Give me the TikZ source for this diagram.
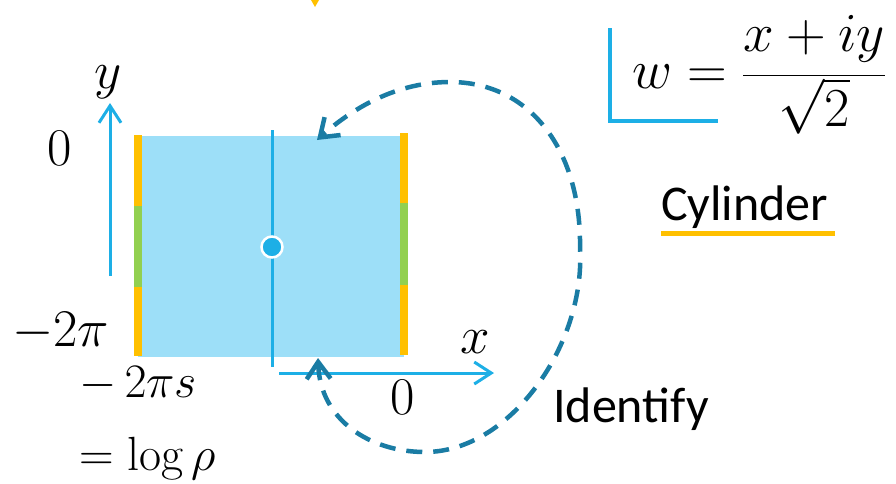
\RequirePackage{fix-cm}
\documentclass[tikz,border=0pt]{standalone}
\usepackage{fontspec}
\newfontfamily\carl{Carlito}
\usetikzlibrary{arrows.meta}
\definecolor{rectfill}{RGB}{157,223,248}
\definecolor{axisblue}{RGB}{29,175,230}
\definecolor{dashblue}{RGB}{26,124,164}
\definecolor{orng}{RGB}{255,192,0}
\definecolor{grn}{RGB}{146,208,80}
\tikzset{
  mathlbl/.style={inner sep=0pt, font=\fontsize{53}{60}\selectfont},
  smallmath/.style={inner sep=0pt, font=\fontsize{48}{54}\selectfont},
  sanslbl/.style={inner sep=0pt, font=\carl\fontsize{50}{56}\selectfont},
  axisline/.style={axisblue, line width=3pt, -{Straight Barb[length=17pt,width=22pt]}},
  identline/.style={dashblue, line width=4.5pt, dash pattern=on 16pt off 11pt,
     {Straight Barb[length=17pt,width=24pt]}-{Straight Barb[length=17pt,width=24pt]}},
  edgebar/.style={line width=8pt}
}
\begin{document}
\begin{tikzpicture}[x=1pt,y=-1pt]
\useasboundingbox (0,0) rectangle (896,483);
% top orange tip
\fill[orng] (311,0) -- (319,0) -- (315,7) -- cycle;
% strip
\fill[rectfill] (138,136) rectangle (404,357);
\draw[orng, edgebar] (138,135) -- (138,206);
\draw[grn, edgebar] (138,206) -- (138,287);
\draw[orng, edgebar] (138,287) -- (138,356);
\draw[orng, edgebar] (404,133) -- (404,203);
\draw[grn, edgebar] (404,203) -- (404,285);
\draw[orng, edgebar] (404,285) -- (404,355);
\coordinate (cuttop) at (272,130);
\coordinate (cutbot) at (272,367);
\draw[axisblue, line width=3pt] (cuttop) -- (cutbot);
\node[circle, fill=axisblue, draw=white, line width=2.5pt, minimum size=21pt, inner sep=0pt] (pt) at (272,247) {};
% axes
\coordinate (ys) at (110,276);
\coordinate (ye) at (110,103);
\draw[axisline] (ys) -- (ye);
\coordinate (xs) at (279,373);
\coordinate (xe) at (494,373);
\draw[axisline] (xs) -- (xe);
\node[mathlbl] (ylab) at (108,82) {$y$};
\node[mathlbl] (xlab) at (475,342) {$x$};
\node[mathlbl] (zl) at (60,148) {$0$};
\node[mathlbl] (zb) at (403,397) {$0$};
\node[mathlbl, anchor=base west] (m2pi) at (12,346) {$-2\pi$};
\node[smallmath, anchor=base west] (m2pis) at (79,397) {$-\,2\pi s$};
\node[smallmath, anchor=base west] (logr) at (79,470) {$=\log\rho$};
% identify loop
\coordinate (idA) at (318,358);
\coordinate (idB) at (317,140);
\draw[identline] (idA) .. controls (320,420) and (370,452) .. (425,452)
  .. controls (510,452) and (585,345) .. (580,250)
  .. controls (582,150) and (530,82) .. (450,82)
  .. controls (390,82) and (345,115) .. (idB);
\node[sanslbl, anchor=base west] (ident) at (553,422) {Identify};
% cylinder
\node[sanslbl, anchor=base west] (cyl) at (661,220) {Cylinder};
\draw[orng, line width=5pt] (cyl.base west) ++(0,13) -- ++(174,0);
% bracket and formula
\draw[axisblue, line width=4pt] (610,28) -- (610,121) -- (718,121);
\node[mathlbl, font=\fontsize{55}{62}\selectfont] (wf) at (759,75) {$\displaystyle w=\frac{x+iy}{\sqrt{2}}$};
\end{tikzpicture}
\end{document}
